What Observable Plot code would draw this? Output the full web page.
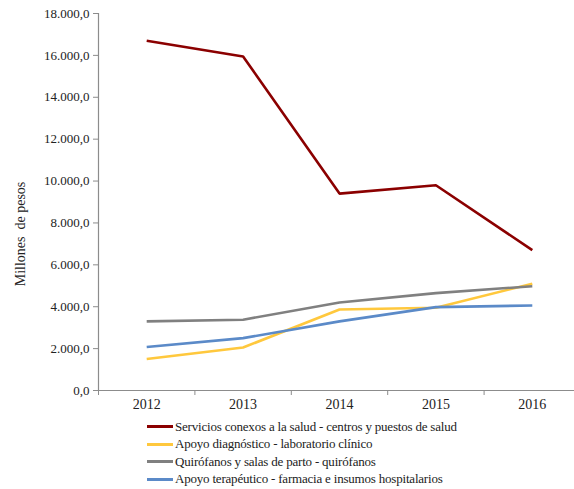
<!DOCTYPE html>
<html>
<head>
<meta charset="utf-8">
<script src="https://cdn.jsdelivr.net/npm/d3@7"></script>
<script src="https://cdn.jsdelivr.net/npm/@observablehq/plot@0.6"></script>
</head>
<body style="margin:0;background:#fff;font-family:'Liberation Serif',serif">
<div id="wrap" style="position:relative;width:574px;height:489px;font-family:'Liberation Serif',serif">
  <div id="chart"></div>
  <div id="legend" style="position:absolute;left:147px;top:418px;font-size:13px;letter-spacing:-0.2px;color:#222;font-family:'Liberation Serif',serif"></div>
</div>
<script>
const years = [2012, 2013, 2014, 2015, 2016];
const seriesNames = [
  "Servicios conexos a la salud - centros y puestos de salud",
  "Apoyo diagnóstico - laboratorio clínico",
  "Quirófanos y salas de parto - quirófanos",
  "Apoyo terapéutico - farmacia e insumos hospitalarios"
];
const serviciosConexos = [16700, 15950, 9400, 9800, 6700];
const apoyoDiagnostico = [1500, 2050, 3870, 3950, 5100];
const quirofanos = [3300, 3380, 4200, 4650, 4980];
const apoyoTerapeutico = [2080, 2500, 3300, 3980, 4060];
const colors = ["#8b0000", "#ffc83d", "#808080", "#5b8ac8"];
const yTicks = d3.range(0, 18001, 2000);
const yLabel = "Millones  de pesos";

const allSeries = [serviciosConexos, apoyoDiagnostico, quirofanos, apoyoTerapeutico];
const data = allSeries.flatMap((vals, i) => vals.map((v, j) => ({year: years[j], value: v, series: seriesNames[i]})));
const boundaries = [years[0] - 0.5, ...years.map(y => y + 0.5)];
const fmt = d3.formatLocale({decimal: ",", thousands: ".", grouping: [3], currency: ["$", ""]}).format(",.1f");
const axisColor = "#8c8c8c";
const serif = "'Liberation Serif', serif";

const chart = Plot.plot({
  width: 574,
  height: 415,
  marginTop: 13,
  marginBottom: 25,
  marginLeft: 98,
  marginRight: -6,
  style: {fontFamily: serif, fontSize: "13px", color: "#222", overflow: "visible"},
  x: {domain: [years[0] - 0.5, years[years.length - 1] + 0.5]},
  y: {domain: [0, 18000]},
  color: {domain: seriesNames, range: colors},
  marks: [
    Plot.axisY({ticks: yTicks, tickFormat: fmt, tickSize: 5, tickPadding: 4, stroke: axisColor, label: null, fontSize: 13}),
    Plot.axisX({ticks: boundaries, tickFormat: () => "", tickSize: 5, stroke: axisColor, label: null}),
    Plot.axisX({ticks: years, tickFormat: d => String(d), tickSize: 0, tickPadding: 9, label: null, fontSize: 14}),
    Plot.ruleY([0], {stroke: axisColor, strokeWidth: 1.2}),
    Plot.ruleX([boundaries[0]], {stroke: axisColor, strokeWidth: 1.2}),
    Plot.line(data, {x: "year", y: "value", z: "series", stroke: "series", strokeWidth: 2.6, strokeLinejoin: "miter", strokeLinecap: "butt"}),
    Plot.text([yLabel], {frameAnchor: "left", textAnchor: "middle", rotate: -90, dx: -78, dy: 32, fontSize: 14, fill: "#222"})
  ]
});
chart.setAttribute("font-family", serif);
chart.style.fontFamily = serif;
chart.querySelectorAll("text, g").forEach(el => el.style.fontFamily = serif);
document.getElementById("chart").appendChild(chart);

const legend = document.getElementById("legend");
seriesNames.forEach((name, i) => {
  const row = document.createElement("div");
  row.style.cssText = "display:flex;align-items:center;height:17.5px;font-family:'Liberation Serif',serif";
  const sw = document.createElement("div");
  sw.style.cssText = "width:26px;height:3px;margin-right:2px;background:" + colors[i];
  const t = document.createElement("span");
  t.textContent = name;
  row.appendChild(sw);
  row.appendChild(t);
  legend.appendChild(row);
});
</script>
</body>
</html>
